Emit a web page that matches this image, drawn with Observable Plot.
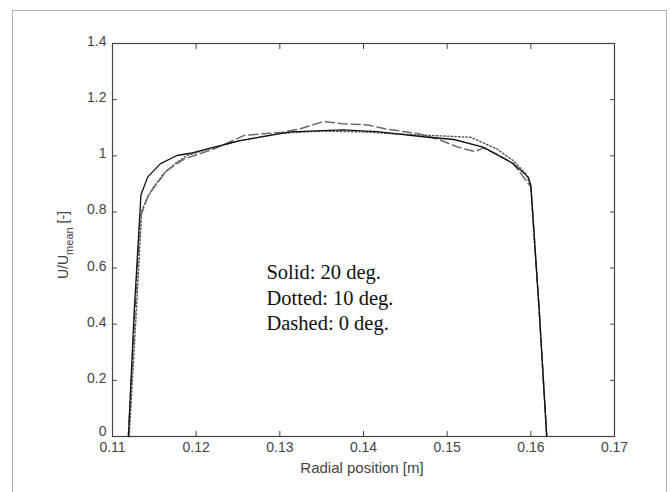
<!DOCTYPE html>
<html>
<head>
<meta charset="utf-8">
<script src="https://cdn.jsdelivr.net/npm/d3@7"></script>
<script src="https://cdn.jsdelivr.net/npm/@observablehq/plot@0.6"></script>
<style>
  html, body { margin: 0; padding: 0; background: #fff; }
  #wrap { position: relative; width: 670px; height: 492px; overflow: hidden; }
  #border { position: absolute; left: 12px; top: 10px; width: 655px; height: 500px; border: 1px solid #b0b0b0; box-sizing: border-box; }
  #chart { position: absolute; left: 0; top: 0; }
</style>
</head>
<body>
<div id="wrap"><div id="border"></div><div id="chart"></div></div>
<script>
// Solid: 20 deg.
const solidX = [0.1119, 0.1126, 0.1134, 0.1142, 0.1157, 0.1177, 0.1193, 0.1210, 0.1252, 0.1313, 0.1375, 0.1416, 0.1477, 0.1508, 0.1543, 0.1579, 0.1597, 0.1600, 0.1610, 0.1619];
const solidY = [0.0, 0.45, 0.86, 0.924, 0.971, 1.001, 1.009, 1.022, 1.054, 1.085, 1.092, 1.086, 1.066, 1.058, 1.031, 0.972, 0.924, 0.895, 0.45, 0.0];
// Dotted: 10 deg.
const dottedX = [0.1120, 0.1128, 0.1135, 0.1142, 0.1149, 0.1161, 0.1177, 0.1189, 0.1210, 0.1250, 0.1300, 0.1350, 0.1400, 0.1450, 0.1500, 0.1528, 0.1559, 0.1579, 0.1594, 0.1600, 0.1610, 0.1619];
const dottedY = [0.0, 0.42, 0.805, 0.853, 0.888, 0.936, 0.977, 1.001, 1.020, 1.052, 1.080, 1.088, 1.085, 1.076, 1.070, 1.066, 1.025, 0.983, 0.936, 0.89, 0.45, 0.0];
// Dashed: 0 deg.
const dashedX = [0.1119, 0.1126, 0.1133, 0.1143, 0.1165, 0.1186, 0.1222, 0.1257, 0.1278, 0.1303, 0.1324, 0.1352, 0.1375, 0.1405, 0.1426, 0.1467, 0.1487, 0.1513, 0.1533, 0.1543, 0.1560, 0.1579, 0.1600, 0.1610, 0.1619];
const dashedY = [0.0, 0.40, 0.78, 0.86, 0.948, 0.989, 1.025, 1.072, 1.078, 1.084, 1.096, 1.122, 1.114, 1.110, 1.096, 1.078, 1.061, 1.031, 1.015, 1.028, 1.005, 0.972, 0.89, 0.45, 0.0];

const xTicks = [0.11, 0.12, 0.13, 0.14, 0.15, 0.16, 0.17];
const yTicks = [0, 0.2, 0.4, 0.6, 0.8, 1, 1.2, 1.4];
const noteLines = ["Solid: 20 deg.", "Dotted: 10 deg.", "Dashed: 0 deg."];
const noteY = [0.585, 0.493, 0.404];
const noteX = 0.1284;

const toPts = (xs, ys) => xs.map((x, i) => ({x, y: ys[i]}));
const solid = toPts(solidX, solidY);
const dotted = toPts(dottedX, dottedY);
const dashed = toPts(dashedX, dashedY);
const notes = noteLines.map((t, i) => ({t, x: noteX, y: noteY[i]}));

const axisColor = "#444";
const fmt = d => String(d);
const blank = () => "";

const chart = Plot.plot({
  width: 670,
  height: 492,
  marginLeft: 112,
  marginRight: 56,
  marginTop: 43,
  marginBottom: 56,
  style: {fontFamily: "'Liberation Sans', Arial, sans-serif", fontSize: "14px", color: axisColor, background: "transparent"},
  x: {domain: [0.11, 0.17]},
  y: {domain: [0, 1.4]},
  marks: [
    Plot.frame({stroke: axisColor, strokeWidth: 1.2}),
    Plot.axisX(xTicks, {anchor: "bottom", tickSize: -5, tickPadding: 11, tickFormat: fmt, stroke: axisColor, fill: axisColor, label: null}),
    Plot.axisX(xTicks, {anchor: "top", tickSize: -5, tickFormat: blank, stroke: axisColor, label: null}),
    // left ticks (inward) and labels drawn separately so labels can sit a touch above the ticks
    Plot.axisY(yTicks, {anchor: "left", tickSize: -5, tickFormat: blank, stroke: axisColor, label: null}),
    Plot.axisY(yTicks.filter(d => d !== 0), {anchor: "left", tickSize: 0, tickPadding: 6, dy: -2, tickFormat: fmt, fill: axisColor, label: null}),
    Plot.axisY([0], {anchor: "left", tickSize: 0, tickPadding: 6, dy: -5, tickFormat: fmt, fill: axisColor, label: null}),
    Plot.axisY(yTicks, {anchor: "right", tickSize: -5, tickFormat: blank, stroke: axisColor, label: null}),
    Plot.line(dotted, {x: "x", y: "y", stroke: "#555", strokeWidth: 1.4, strokeDasharray: "1.5,2.2"}),
    Plot.line(dashed, {x: "x", y: "y", stroke: "#6a6a6a", strokeWidth: 1.5, strokeDasharray: "9,4"}),
    Plot.line(solid, {x: "x", y: "y", stroke: "#111", strokeWidth: 1.3}),
    Plot.text(notes, {x: "x", y: "y", text: "t", textAnchor: "start", fill: "#111", fontFamily: "'Liberation Serif', 'DejaVu Serif', serif", fontSize: 20.5})
  ]
});
document.getElementById("chart").appendChild(chart);

// axis titles
const svg = d3.select(chart);
svg.append("text")
  .attr("x", 362).attr("y", 473)
  .attr("text-anchor", "middle")
  .attr("fill", axisColor)
  .style("font-family", "'Liberation Sans', Arial, sans-serif")
  .style("font-size", "15px")
  .text("Radial position [m]");
const yl = svg.append("text")
  .attr("transform", "translate(68,245) rotate(-90)")
  .attr("text-anchor", "middle")
  .attr("fill", axisColor)
  .style("font-family", "'Liberation Sans', Arial, sans-serif")
  .style("font-size", "14px");
yl.append("tspan").text("U/U");
yl.append("tspan").attr("dy", 5).style("font-size", "11px").text("mean");
yl.append("tspan").attr("dy", -5).text(" [-]");
</script>
</body>
</html>
